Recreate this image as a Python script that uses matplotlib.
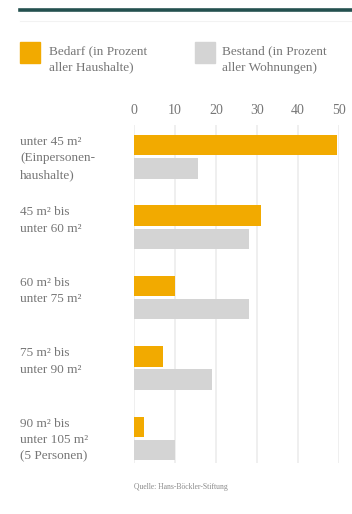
import matplotlib
matplotlib.use("Agg")
import matplotlib.pyplot as plt
from matplotlib.patches import Rectangle
from matplotlib.lines import Line2D

categories = ["unter 45 m²\n(Einpersonen-\nhaushalte)",
              "45 m² bis\nunter 60 m²",
              "60 m² bis\nunter 75 m²",
              "75 m² bis\nunter 90 m²",
              "90 m² bis\nunter 105 m²\n(5 Personen)"]
bedarf = [49.5, 31, 10, 7, 2.5]
bestand = [15.5, 28, 28, 19, 10]
ticks = [0, 10, 20, 30, 40, 50]
legend_labels = ["Bedarf (in Prozent\naller Haushalte)", "Bestand (in Prozent\naller Wohnungen)"]
source = "Quelle: Hans-Böckler-Stiftung"

ORANGE = "#F2AA00"
GRAY = "#D4D4D4"
TXT = "#767676"
FONT = ["Liberation Serif", "DejaVu Serif"]

W, H = 352, 514
fig = plt.figure(figsize=(W / 100, H / 100), dpi=100)

# axes: x 134..339 px, y 125..463 px
ax = fig.add_axes([134 / W, 1 - 463 / H, (339 - 134) / W, (463 - 125) / H])
ax.set_xlim(0, 50)
ax.set_ylim(4.35, -0.45)

ypos = list(range(len(categories)))
off = 0.165
h = 0.29
ax.barh([y - off for y in ypos], bedarf, height=h, color=ORANGE, zorder=2)
ax.barh([y + off for y in ypos], bestand, height=h, color=GRAY, zorder=2)

ax.set_xticks(ticks)
ax.set_xticklabels([str(t) for t in ticks], family=FONT, fontsize=10, color=TXT)
ax.xaxis.tick_top()
ax.tick_params(axis="x", length=0, pad=6)
ax.set_yticks([])
ax.grid(axis="x", color="#ececec", linewidth=1.2, zorder=0)
for s in ax.spines.values():
    s.set_visible(False)

for y, lab in zip(ypos, categories):
    disp = ax.transData.transform((0, y - off - h / 2))
    fy = fig.transFigure.inverted().transform(disp)[1]
    fig.text(20 / W, fy - 1 / H, lab, ha="left", va="top", family=FONT,
             fontsize=9.5, color=TXT, linespacing=1.5)

# top rule
fig.add_artist(Line2D([20 / W, 1.0], [1 - 10 / H, 1 - 10 / H], color="#24504f", linewidth=2.6))
fig.add_artist(Line2D([20 / W, 1.0], [1 - 21 / H, 1 - 21 / H], color="#f2f2f2", linewidth=0.8))

# legend
fig.add_artist(Rectangle((20 / W, 1 - 63 / H), 20 / W, 21 / H, color=ORANGE, transform=fig.transFigure))
fig.text(49 / W, 1 - 45 / H, legend_labels[0], ha="left", va="top", family=FONT,
         fontsize=9.5, color=TXT, linespacing=1.5)
fig.add_artist(Rectangle((195 / W, 1 - 63 / H), 20 / W, 21 / H, color=GRAY, transform=fig.transFigure))
fig.text(222 / W, 1 - 45 / H, legend_labels[1], ha="left", va="top", family=FONT,
         fontsize=9.5, color=TXT, linespacing=1.5)

fig.text(134 / W, 1 - 487 / H, source, ha="left", va="center", family=FONT,
         fontsize=5.5, color="#8a8a8a")

fig.savefig("out.png", dpi=100, facecolor="white")
